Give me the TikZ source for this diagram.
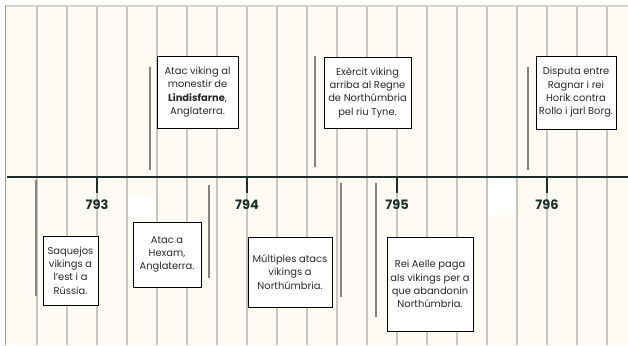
\documentclass[tikz,border=0pt]{standalone}
\usepackage{fontspec}
\setmainfont{Poppins}
\definecolor{tl_cream}{RGB}{253,251,244}
\definecolor{tl_grid}{RGB}{200,198,192}
\definecolor{tl_edge}{RGB}{212,212,210}
\definecolor{tl_axis}{RGB}{28,48,43}
\definecolor{tl_bar}{RGB}{135,130,126}
\definecolor{tl_text}{RGB}{40,40,40}
\tikzstyle{ev}=[rectangle,fill=white,draw=black,line width=0.8pt,
  align=center,inner sep=1pt,text=tl_text,
  font=\fontsize{9.9}{13.3}\selectfont]
\tikzstyle{yr}=[inner sep=1pt,text=tl_axis,
  font=\fontsize{13}{15}\selectfont\bfseries]
\tikzstyle{bar}=[draw=tl_bar,line width=2pt]
\tikzstyle{tick}=[draw=tl_axis,line width=1.5pt]

\begin{document}
\begin{tikzpicture}[x=1pt,y=-1pt]
    \useasboundingbox (0,0) rectangle (628,345);
    % background and grid
    \fill[tl_cream] (6,6) rectangle (628,345);
    \fill[white] (128,197) rectangle (154,217);
    \fill[white] (488,178) rectangle (515,215);
    \foreach \k in {0,...,19}
      \draw[tl_grid,line width=1.4pt] (37+30*\k,7) -- (37+30*\k,345);
    \draw[tl_edge,line width=1.6pt] (5,6) -- (628,6);
    \draw[tl_grid!80!black,line width=1.4pt] (5.5,6) -- (5.5,345);
    % axis
    \coordinate (axl) at (7,177);
    \coordinate (axr) at (628,177);
    \draw[tl_axis,line width=1.6pt] (axl) -- (axr);
    % years
    \node [style=yr] (y793) at (97,205) {793};
    \node [style=yr] (y794) at (247,205) {794};
    \node [style=yr] (y795) at (397,205) {795};
    \node [style=yr] (y796) at (547,205) {796};
    \draw [style=tick] (y793.north |- axl) -- (97,193);
    \draw [style=tick] (y794.north |- axl) -- (247,193);
    \draw [style=tick] (y795.north |- axl) -- (397,193);
    \draw [style=tick] (y796.north |- axl) -- (547,193);
    % events above
    \draw [style=bar] (150,67) -- (150,170);
    \node [style=ev,minimum width=81pt,minimum height=72pt] (lind) at (197.5,92)
      {Atac viking al\\monestir de\\\textbf{Lindisfarne},\\Anglaterra.};
    \draw [style=bar] (315,56) -- (315,167);
    \node [style=ev,minimum width=87pt,minimum height=71pt] (exer) at (367.5,92.5)
      {Exèrcit viking\\arriba al Regne\\de Northúmbria\\pel riu Tyne.};
    \draw [style=bar] (528,67) -- (528,170);
    \node [style=ev,minimum width=80pt,minimum height=73pt] (disp) at (576,92.5)
      {Disputa entre\\Ragnar i rei\\Horik contra\\Rollo i jarl Borg.};
    % events below
    \draw [style=bar] (36,180) -- (36,296);
    \node [style=ev,minimum width=55pt,minimum height=69pt] (saq) at (70.5,270.5)
      {Saquejos\\vikings a\\l'est i a\\Rússia.};
    \draw [style=bar] (209,185) -- (209,278);
    \node [style=ev,minimum width=68pt,minimum height=65pt] (hex) at (167,254.5)
      {Atac a\\Hexam,\\Anglaterra.};
    \draw [style=bar] (341,183) -- (341,297);
    \node [style=ev,minimum width=84pt,minimum height=70pt] (mult) at (290,272)
      {Múltiples atacs\\vikings a\\Northúmbria.};
    \draw [style=bar] (376,183) -- (376,317);
    \node [style=ev,minimum width=86pt,minimum height=94pt] (aelle) at (430,284)
      {Rei Aelle paga\\als vikings per a\\que abandonin\\Northúmbria.};
  \end{tikzpicture}
\end{document}
